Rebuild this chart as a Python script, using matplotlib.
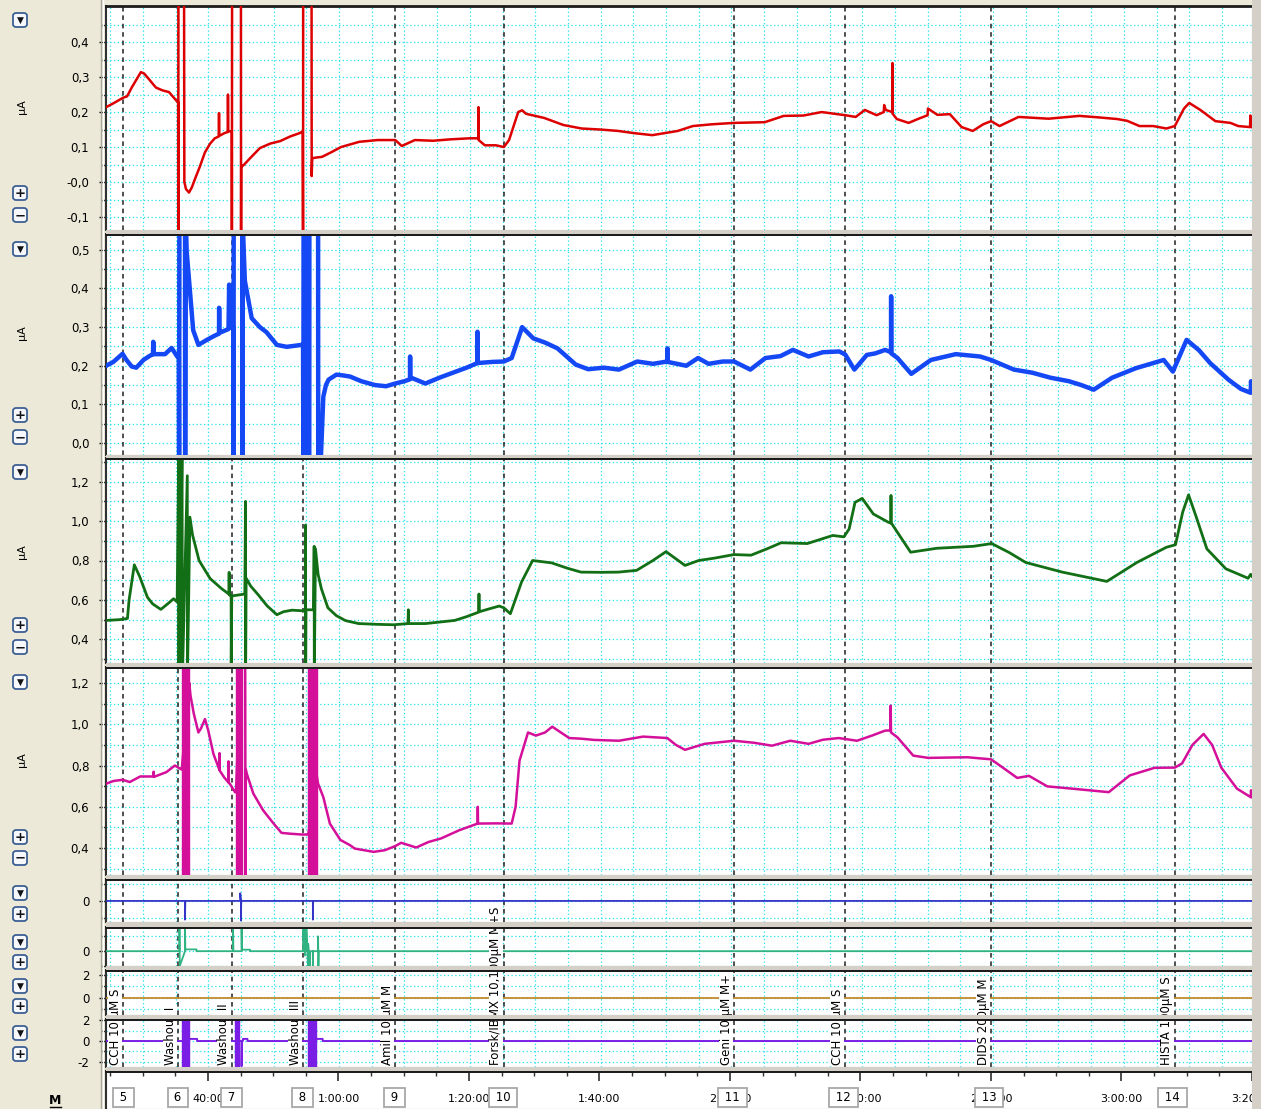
import matplotlib.pyplot as plt
import matplotlib.transforms as mtrans
from matplotlib.ticker import MultipleLocator
from matplotlib.patches import Rectangle, FancyBboxPatch
from matplotlib.lines import Line2D

# ---------------- datos (tiempo en minutos, corriente en uA) ----------------
eventos_t = [27.0, 35.4, 43.6, 54.5, 68.6, 85.2, 120.4, 137.4, 159.7, 187.8]
eventos_n = [5, 6, 7, 8, 9, 10, 11, 12, 13, 14]
comentarios = ["CCH 10 µM S", "Washout I", "Washout II", "Washout III", "Amil 10 µM M",
               "Forsk/IBMX 10,100µM M+S", "Geni 10 µM M+", "CCH 10 µM S", "DIDS 200µM M",
               "HISTA 100µM S"]

tiempo_ticks = [40, 60, 80, 100, 120, 140, 160, 180, 200]
tiempo_labels = ["40:00", "1:00:00", "1:20:00", "1:40:00", "2:00:00", "2:20:00",
                 "2:40:00", "3:00:00", "3:20:00"]

# canal 1 (rojo)
red_t = [24.4, 25.5, 27.0, 27.6, 28.3, 29.7, 30.2, 30.8, 32.0, 33.0, 34.0, 35.3,
         35.4, 35.42, 35.45, 36.3, 36.35, 36.6, 37.06, 37.5, 38.0, 38.7, 39.5, 40.3, 41.0, 41.6,
         41.65, 41.7, 42.5, 43.0, 43.02, 43.05, 43.6,
         43.62, 43.65, 45.0, 45.02, 45.05, 45.5, 46.5, 47.9, 49.5, 51.0, 52.5, 54.0, 54.45,
         54.5, 54.52, 55.8, 55.82, 55.9, 56.5, 57.4, 58.8, 60.3, 63.1, 65.9, 68.6, 69.6, 71.6,
         74.4, 77.0, 80.0, 81.3, 81.32, 81.35, 82.3, 84.0, 85.2, 86.0, 87.4, 88.0, 88.6, 91.4,
         94.3, 97.1, 100.0, 102.7, 105.0, 107.9, 111.8, 114.1, 117.0, 120.4, 125.1, 128.0,
         131.0, 133.8, 137.4, 139.0, 140.4, 142.2, 143.3, 143.35, 143.6, 144.6, 144.62, 144.65,
         145.3, 147.1, 148.5, 150.0, 150.05, 151.5, 153.4, 155.2, 156.9, 158.5, 159.7, 161.0,
         163.9, 168.5, 173.2, 176.0, 179.0, 180.5, 182.4, 184.5, 186.5, 187.8, 189.2, 190.0,
         191.7, 194.0, 196.3, 197.5, 199.3, 199.35, 199.6]
red_v = [0.214, 0.225, 0.241, 0.245, 0.27, 0.314, 0.31, 0.297, 0.27, 0.262, 0.257, 0.229,
         0.229, -0.2, 0.6, 0.6, 0.0, -0.02, -0.03, -0.015, 0.01, 0.043, 0.085, 0.11, 0.125, 0.13,
         0.197, 0.132, 0.14, 0.143, 0.25, 0.145, 0.145,
         -0.2, 0.6, 0.6, -0.2, 0.043, 0.05, 0.07, 0.097, 0.11, 0.117, 0.13, 0.14, 0.145,
         -0.2, 0.6, 0.6, 0.017, 0.068, 0.07, 0.072, 0.085, 0.1, 0.115, 0.12, 0.12, 0.103, 0.12,
         0.118, 0.122, 0.125, 0.125, 0.214, 0.12, 0.105, 0.105, 0.1, 0.12, 0.2, 0.205, 0.195, 0.183,
         0.163, 0.153, 0.15, 0.146, 0.14, 0.134, 0.146, 0.16, 0.165, 0.169, 0.171, 0.189,
         0.19, 0.2, 0.191, 0.186, 0.206, 0.191, 0.2, 0.22, 0.206, 0.2, 0.34, 0.195,
         0.18, 0.169, 0.18, 0.191, 0.21, 0.192, 0.194, 0.157, 0.146, 0.165, 0.174, 0.16,
         0.186, 0.181, 0.189, 0.185, 0.18, 0.175, 0.16, 0.16, 0.153, 0.16, 0.21, 0.226,
         0.206, 0.174, 0.169, 0.16, 0.157, 0.19, 0.157]

# canal 2 (azul)
blue_t = [24.4, 25.5, 26.9, 27.5, 28.3, 29.0, 30.1, 31.0, 31.55, 31.6, 31.65, 33.4, 34.4, 35.3,
          35.5, 35.55, 35.6, 36.45, 36.47, 36.55, 36.7, 37.2, 37.7, 38.5, 39.8, 41.0, 41.65,
          41.67, 41.7, 43.1, 43.2, 43.25, 43.6, 43.85, 43.87, 43.9, 45.2, 45.22, 45.3, 45.36,
          45.6, 46.65, 47.9, 48.9, 50.5, 52.0, 54.3, 54.5, 54.55, 54.58, 54.9, 54.92, 55.45,
          55.47, 56.8, 56.82, 57.2, 57.6, 58.0, 58.4, 59.6, 60.6, 61.7, 63.4, 65.5, 67.2, 68.6,
          70.0, 70.85, 70.87, 70.9, 73.2, 75.5, 77.4, 79.5, 81.15, 81.17, 81.2, 83.5, 85.2,
          86.4, 88.0, 89.7, 91.5, 93.4, 96.2, 98.1, 100.5, 102.8, 105.6, 108.0, 110.2, 110.22,
          110.25, 113.1, 114.9, 116.5, 118.7, 120.4, 122.9, 125.2, 127.5, 129.4, 131.8, 134.0,
          136.5, 137.4, 138.8, 140.7, 142.0, 143.5, 144.4, 144.42, 144.45, 145.4, 147.5, 150.5,
          154.3, 158.0, 159.7, 163.2, 166.0, 168.8, 171.6, 173.5, 175.4, 178.2, 181.9, 186.1,
          187.5, 189.6, 191.5, 193.2, 196.0, 197.9, 199.4, 199.45, 199.6]
blue_v = [0.2, 0.21, 0.231, 0.215, 0.198, 0.195, 0.215, 0.225, 0.23, 0.262, 0.23, 0.23, 0.246, 0.223,
          0.223, -0.1, 0.6, 0.6, -0.1, 0.6, 0.497, 0.395, 0.292, 0.254, 0.267, 0.278, 0.283,
          0.35, 0.285, 0.295, 0.41, 0.298, 0.3, 0.3, -0.1, 0.6, 0.6, -0.1, 0.6, 0.53,
          0.42, 0.323, 0.3, 0.287, 0.254, 0.249, 0.254, 0.254, -0.1, 0.6, 0.6, -0.1, -0.1,
          0.6, 0.6, -0.1, -0.05, 0.12, 0.15, 0.164, 0.177, 0.175, 0.172, 0.16, 0.15, 0.147, 0.154,
          0.16, 0.165, 0.224, 0.17, 0.154, 0.17, 0.182, 0.195, 0.207, 0.288, 0.207, 0.21, 0.211,
          0.22, 0.3, 0.271, 0.26, 0.245, 0.203, 0.191, 0.195, 0.19, 0.211, 0.205, 0.211, 0.245,
          0.21, 0.2, 0.22, 0.205, 0.211, 0.211, 0.19, 0.22, 0.225, 0.241, 0.224, 0.235,
          0.237, 0.229, 0.19, 0.228, 0.232, 0.241, 0.235, 0.38, 0.232, 0.22, 0.179, 0.215,
          0.23, 0.224, 0.215, 0.19, 0.182, 0.169, 0.16, 0.15, 0.138, 0.169, 0.194, 0.215,
          0.185, 0.267, 0.24, 0.207, 0.164, 0.14, 0.13, 0.16, 0.135]

# canal 3 (verde)
green_t = [24.4, 26.5, 27.65, 27.9, 28.7, 29.5, 30.7, 31.5, 32.75, 33.8, 34.7, 35.25,
           35.5, 35.52, 35.6, 35.65, 36.0, 36.05, 36.8, 36.82, 37.2, 37.6, 38.6, 40.3, 42.05,
           43.15, 43.2, 43.25, 43.5, 43.52, 43.6, 45.6, 45.7, 45.72, 45.8, 46.5, 47.7, 49.0,
           50.5, 51.5, 52.8, 54.4, 54.85, 54.87, 54.9, 54.95, 56.1, 56.2, 56.22, 56.4, 56.8,
           57.3, 58.3, 59.6, 61.0, 63.0, 66.0, 68.4, 70.55, 70.6, 70.65, 73.2, 77.7, 79.5,
           81.35, 81.4, 81.45, 83.0, 84.5, 85.2, 86.2, 87.9, 89.6, 92.5, 95.0, 97.0, 100.0,
           102.7, 105.5, 108.0, 110.0, 112.9, 115.0, 117.4, 120.4, 123.0, 125.5, 127.6, 131.6,
           135.5, 137.2, 138.0, 138.9, 140.0, 141.7, 144.0, 144.35, 144.4, 144.45, 147.4,
           151.4, 157.0, 159.8, 162.5, 165.0, 170.6, 177.4, 182.0, 186.5, 187.9, 189.0, 189.9,
           191.0, 192.7, 195.6, 199.0, 199.4, 199.6]
green_v = [0.496, 0.5, 0.506, 0.6, 0.778, 0.72, 0.614, 0.58, 0.552, 0.58, 0.606, 0.59,
           1.4, 0.2, 1.4, 0.2, 1.4, 0.2, 1.23, 0.2, 1.02, 0.93, 0.8, 0.708, 0.657,
           0.63, 0.74, 0.625, 0.623, 0.28, 0.62, 0.63, 1.1, 0.2, 0.71, 0.67, 0.624, 0.57,
           0.525, 0.54, 0.548, 0.545, 0.545, 0.98, 0.2, 0.55, 0.55, 0.872, 0.2, 0.86, 0.73,
           0.657, 0.56, 0.52, 0.495, 0.48, 0.476, 0.474, 0.48, 0.55, 0.48, 0.48, 0.496, 0.515,
           0.538, 0.63, 0.54, 0.555, 0.569, 0.56, 0.53, 0.69, 0.8, 0.788, 0.76, 0.741, 0.74,
           0.741, 0.75, 0.8, 0.845, 0.775, 0.8, 0.812, 0.83, 0.827, 0.86, 0.89, 0.886,
           0.927, 0.92, 0.96, 1.095, 1.115, 1.036, 0.994, 0.99, 1.13, 0.99, 0.842,
           0.862, 0.872, 0.886, 0.84, 0.79, 0.741, 0.694, 0.79, 0.867, 0.88, 1.045, 1.133,
           1.028, 0.859, 0.758, 0.71, 0.73, 0.72]

# canal 4 (magenta)
mag_t = [24.4, 25.5, 26.9, 28.0, 29.6, 31.6, 31.65, 31.7, 33.6, 34.9, 35.7, 35.95,
         37.1, 37.3, 37.8, 38.5, 38.9, 39.5, 40.0, 40.8, 41.7, 41.72, 41.75, 42.5, 43.05, 43.1,
         43.15, 43.3, 44.1, 44.25, 45.1, 45.65, 45.7, 45.75, 45.9, 46.9, 48.4, 50.0, 51.2,
         52.5, 54.3, 55.3, 56.6, 56.8, 57.6, 58.6, 60.2, 61.7, 62.4, 65.3, 67.0, 68.6, 69.5,
         71.8, 73.7, 75.6, 78.4, 81.2, 81.22, 81.25, 84.0, 86.4, 87.0, 87.6, 88.9, 90.1, 91.5,
         92.6, 95.2, 97.0, 99.0, 102.8, 106.5, 110.2, 111.5, 112.9, 115.9, 120.4, 123.5, 126.2,
         129.0, 131.8, 134.0, 136.4, 139.2, 141.5, 143.5, 144.3, 144.35, 144.4, 145.4, 147.8,
         150.1, 156.1, 159.7, 161.5, 163.7, 165.5, 168.3, 172.1, 177.7, 180.9, 184.7, 187.8,
         188.9, 190.5, 192.2, 193.5, 194.9, 197.3, 199.4, 199.45, 199.6]
mag_v = [0.712, 0.725, 0.731, 0.72, 0.747, 0.747, 0.77, 0.745, 0.768, 0.8, 0.785, 0.78,
         1.2, 1.137, 1.05, 0.96, 0.98, 1.025, 0.97, 0.856, 0.78, 0.86, 0.776, 0.74, 0.72, 0.82,
         0.715, 0.712, 0.671, 0.67, 1.4, 1.4, 0.2, 0.78, 0.76, 0.664, 0.583, 0.519, 0.474,
         0.47, 0.466, 0.466, 0.75, 0.712, 0.647, 0.519, 0.44, 0.414, 0.398, 0.382, 0.39, 0.41, 0.426,
         0.403, 0.43, 0.447, 0.487, 0.519, 0.6, 0.519, 0.52, 0.519, 0.6, 0.824, 0.96, 0.945, 0.96,
         0.988, 0.933, 0.93, 0.924, 0.92, 0.94, 0.933, 0.9, 0.876, 0.905, 0.92, 0.91, 0.896,
         0.92, 0.905, 0.925, 0.933, 0.92, 0.945, 0.969, 0.97, 1.09, 0.96, 0.936, 0.848,
         0.837, 0.84, 0.83, 0.79, 0.74, 0.75, 0.699, 0.688, 0.671, 0.752, 0.789, 0.79,
         0.81, 0.9, 0.953, 0.9, 0.79, 0.688, 0.647, 0.68, 0.647]
mag_barra_ini = [35.95, 44.25, 55.3]
mag_barra_fin = [37.1, 45.1, 56.6]

# canales pequenos
c5_t = [24.4, 36.45, 36.45, 36.5, 44.9, 44.9, 45.0, 45.0, 45.05, 56.0, 56.0, 56.05, 199.6]
c5_v = [0, 0, -1.1, 0, 0, 0.45, 0, -1.15, 0, 0, -1.1, 0, 0]
c6_t = [24.4, 35.6, 35.6, 35.65, 36.45, 36.45, 36.5, 38.2, 38.2, 43.8, 43.8, 43.85,
        45.1, 45.1, 45.15, 46.4, 46.4, 54.5, 54.5, 54.8, 54.8, 55.0, 55.0, 55.25, 55.3,
        55.55, 55.6, 56.0, 56.0, 56.05, 56.8, 56.8, 56.85, 56.9, 199.6]
c6_v = [0, 0, 1.7, -1.0, 0, 1.7, 0.12, 0.12, 0, 0, 1.7, 0,
        0, 1.7, 0.1, 0.1, 0, 0, 1.7, -0.3, 1.7, 0, 1.7, -1.0, 0.5,
        -1.0, 0, 0, -1.0, 0, 0, 1.0, -1.0, 0, 0]
c7_t = [24.4, 199.6]
c7_v = [0, 0]
c8_t = [24.4, 37.1, 37.1, 38.3, 38.3, 45.1, 45.1, 45.15, 45.3, 45.3, 46.0, 46.0, 56.5, 56.5,
        57.5, 57.5, 199.6]
c8_v = [0, 0, 0.2, 0.2, 0, 0, -2.4, 0, 0, 0.2, 0.2, 0, 0, 0.2, 0.2, 0, 0]
c8_barra_ini = [35.95, 44.1, 55.3]
c8_barra_fin = [37.1, 44.75, 56.5]

# ---------------- figura ----------------
W, H = 1261, 1109
fig = plt.figure(figsize=(W / 100, H / 100), dpi=100, facecolor='#ece9d8')
CIAN = '#22e3ee'
BEIGE_GRIS = '#d4d0c8'

tops = [6, 234, 458, 667, 879, 927, 970, 1019, 1071]
bots = [230, 455, 663, 875, 922, 966, 1015, 1067, 1109]
X0, X1 = 106, 1252
XLIM = (24.37, 199.6)

axes = []
for top, bot in zip(tops, bots):
    axes.append(fig.add_axes([X0 / W, 1 - bot / H, (X1 - X0) / W, (bot - top) / H]))

ylims = [(-0.137, 0.503), (-0.031, 0.541), (0.28, 1.32), (0.27, 1.277),
         (-1.24, 1.29), (-0.97, 1.63), (-1.48, 2.43), (-2.48, 2.1)]
yticks = [[-0.1, 0.0, 0.1, 0.2, 0.3, 0.4], [0.0, 0.1, 0.2, 0.3, 0.4, 0.5],
          [0.4, 0.6, 0.8, 1.0, 1.2], [0.4, 0.6, 0.8, 1.0, 1.2],
          [0], [0], [0, 2], [-2, 0, 2]]
ylabels = [["-0,1", "-0,0", "0,1", "0,2", "0,3", "0,4"],
           ["0,0", "0,1", "0,2", "0,3", "0,4", "0,5"],
           ["0,4", "0,6", "0,8", "1,0", "1,2"], ["0,4", "0,6", "0,8", "1,0", "1,2"],
           ["0"], ["0"], ["0", "2"], ["-2", "0", "2"]]
yminor = [[-0.05, 0.05, 0.15, 0.25, 0.35, 0.45], [0.05, 0.15, 0.25, 0.35, 0.45],
          [0.3, 0.5, 0.7, 0.9, 1.1, 1.3], [0.3, 0.5, 0.7, 0.9, 1.1],
          [-1, 1], [-1, 1], [-1, 1], [-1, 1]]

for i, a in enumerate(axes[:8]):
    a.set_xlim(*XLIM)
    a.set_ylim(*ylims[i])
    a.xaxis.set_major_locator(MultipleLocator(5))
    a.tick_params(axis='x', length=0, labelbottom=False)
    a.set_yticks(yticks[i], labels=ylabels[i])
    a.set_yticks(yminor[i], minor=True)
    a.tick_params(axis='y', which='major', length=5, width=1, labelsize=8.5, pad=7)
    a.tick_params(axis='y', which='minor', length=3, width=1)
    a.grid(True, axis='x', color=CIAN, ls=(0, (1, 2)), lw=0.9)
    a.grid(True, axis='y', which='both', color=CIAN, ls=(0, (1, 2)), lw=0.9)
    a.set_axisbelow(True)
    for t in eventos_t:
        a.axvline(t, color='#202020', ls=(0, (3, 2.5)), lw=1.1, zorder=2)

for a in axes:
    a.spines['top'].set_color('#1c1c1c')
    a.spines['top'].set_linewidth(2)
    a.spines['left'].set_color('#303030')
    a.spines['left'].set_linewidth(1.5)
    a.spines['bottom'].set_color('#909090')
    a.spines['right'].set_color('#a0a0a0')

# trazos
axes[0].plot(red_t, red_v, color='#dd0000', lw=1.8, zorder=3)
axes[1].plot(blue_t, blue_v, color='#1448f5', lw=3.2, zorder=3)
axes[2].plot(green_t, green_v, color='#126f16', lw=2.0, zorder=3)
axes[3].plot(mag_t, mag_v, color='#d4109a', lw=1.8, zorder=3)
for t0, t1 in zip(mag_barra_ini, mag_barra_fin):
    axes[3].axvspan(t0, t1, color='#d4109a', zorder=3)
axes[4].plot(c5_t, c5_v, color='#3434c8', lw=1.3, zorder=3)
axes[5].plot(c6_t, c6_v, color='#2fb382', lw=1.3, zorder=3)
axes[6].plot(c7_t, c7_v, color='#c48a2c', lw=1.3, zorder=3)
axes[7].plot(c8_t, c8_v, color='#7a1ee6', lw=1.4, zorder=3)
for t0, t1 in zip(c8_barra_ini, c8_barra_fin):
    axes[7].axvspan(t0, t1, color='#7a1ee6', zorder=3)

# eje de tiempo
a9 = axes[8]
a9.set_xlim(*XLIM)
a9.set_ylim(0, 1)
a9.set_yticks([])
a9.set_xticks(tiempo_ticks, labels=[''] * len(tiempo_ticks))
a9.set_xticks(list(range(25, 200, 5)), minor=True)
a9.tick_params(axis='x', which='both', top=True, bottom=False, labelbottom=False,
               direction='in', color='#303030')
a9.tick_params(axis='x', which='major', length=7, width=1.2)
a9.tick_params(axis='x', which='minor', length=3.5, width=1)
for t, lab in zip(tiempo_ticks, tiempo_labels):
    a9.text(t, 0.27, lab, ha='center', va='center', fontsize=8, clip_on=True)
for t, n in zip(eventos_t, eventos_n):
    a9.text(t, 0.31, f' {n} ', ha='center', va='center', fontsize=8.5, zorder=5,
            bbox=dict(boxstyle='square,pad=0.25', fc='white', ec='#a8a8a8', lw=1.3))

# comentarios verticales
tr = (mtrans.blended_transform_factory(axes[7].transData, axes[7].transAxes)
      + mtrans.ScaledTranslation(-1.5 / 100, 0, fig.dpi_scale_trans))
for t, c in zip(eventos_t, comentarios):
    axes[7].text(t, 0.04, c, rotation=90, ha='right', va='bottom', fontsize=8.5,
                 transform=tr, clip_on=False, zorder=6,
                 bbox=dict(boxstyle='square,pad=0.05', fc='white', ec='none'))

# separaciones entre canales
for k in range(len(tops) - 1):
    fig.add_artist(Rectangle((X0 / W, 1 - tops[k + 1] / H), (X1 - X0) / W,
                             (tops[k + 1] - bots[k]) / H, transform=fig.transFigure,
                             fc=BEIGE_GRIS, ec='none', zorder=10))
    fig.add_artist(Rectangle((X0 / W, 1 - (tops[k + 1] + 2) / H), (X1 - X0) / W, 2 / H,
                             transform=fig.transFigure, fc='#1c1c1c', ec='none', zorder=10))
fig.add_artist(Rectangle((X1 / W, 0), 1 - X1 / W, 1, transform=fig.transFigure,
                         fc=BEIGE_GRIS, ec='none', zorder=10))
fig.add_artist(Line2D([101 / W, 101 / W], [0, 1], color='#aca899', lw=1))
fig.add_artist(Line2D([103 / W, 103 / W], [0, 1], color='white', lw=1))

# botones del panel izquierdo
botones = [(20, '▼'), (193, '+'), (215, '−'), (249, '▼'), (415, '+'), (437, '−'),
           (472, '▼'), (625, '+'), (647, '−'), (682, '▼'), (837, '+'), (858, '−'),
           (893, '▼'), (914, '+'), (942, '▼'), (962, '+'), (986, '▼'), (1006, '+'),
           (1033, '▼'), (1054, '+')]
for y, s in botones:
    fig.add_artist(FancyBboxPatch(((20 - 7) / W, 1 - (y + 7) / H), 14 / W, 14 / H,
                                  boxstyle='round,pad=0,rounding_size=0.0025',
                                  transform=fig.transFigure, fc='#f6f7fb', ec='#3d5f93',
                                  lw=1.3, zorder=3))
    fig.text(20 / W, 1 - (y + 0.5) / H, s, ha='center', va='center',
             fontsize=6.5 if s == '▼' else 9.5, fontweight='bold', color='#111111', zorder=4)

for y in [107, 333, 552, 760]:
    fig.text(22 / W, 1 - y / H, 'µA', rotation=90, ha='center', va='center', fontsize=8)

fig.text(55 / W, 1 - 1100 / H, 'M', ha='center', va='center', fontsize=9, fontweight='bold')
fig.add_artist(Line2D([50 / W, 61 / W], [1 - 1107 / H, 1 - 1107 / H], color='black', lw=1))

fig.savefig('out.png', dpi=100, facecolor=fig.get_facecolor())
